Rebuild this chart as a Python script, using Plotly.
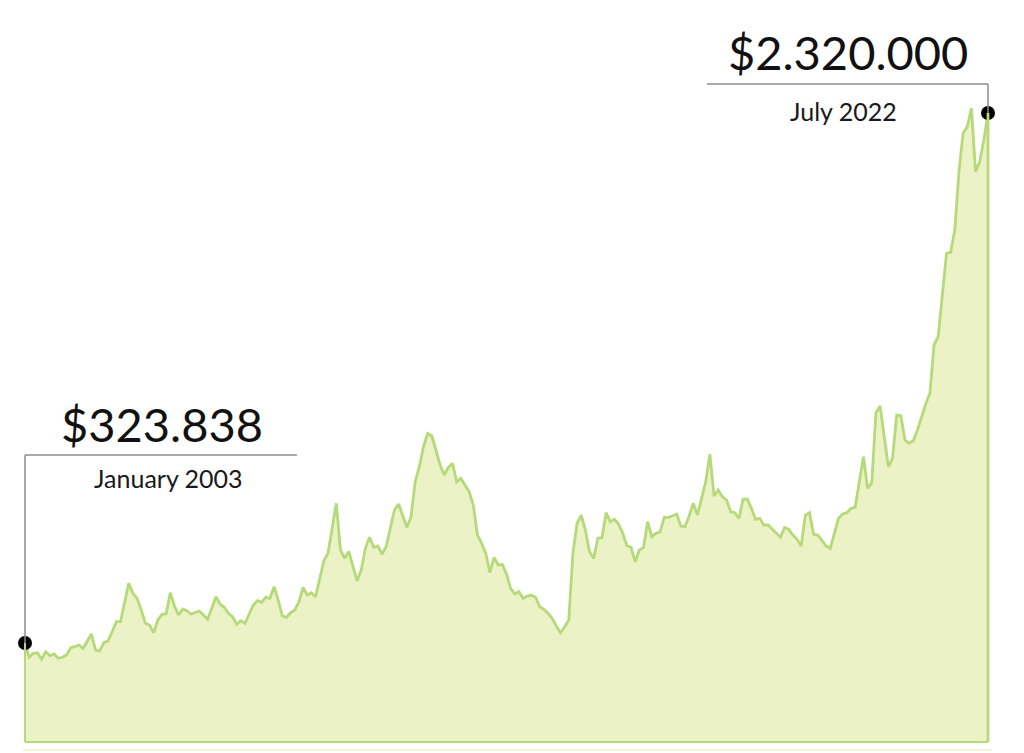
import pandas as pd
import plotly.graph_objects as go

# ---- data ----
values = [
    323838, 270000, 285000, 287300, 262400, 291100, 276000, 282400, 266200, 270000,
    278600, 306100, 309900, 316300, 303900, 328700, 357700, 297500, 293700, 325000,
    331400, 366400, 404100, 404100, 479400, 548700, 511000, 492200, 448100, 398000,
    391600, 362600, 410500, 431900, 434200, 513300, 463200, 429300, 451900, 445500,
    433100, 438000, 444400, 429300, 413100, 454500, 498200, 470700, 458300, 435700,
    422900, 394300, 407800, 398000, 435700, 466900, 483100, 477100, 496000, 492200,
    535900, 485800, 425500, 420600, 438000, 448100, 479400, 533600, 504600, 513300,
    498200, 561100, 633800, 661700, 761900, 850000, 674100, 642800, 668400, 611200,
    558500, 598800, 680500, 721900, 684300, 689200, 659000, 686500, 761900, 824700,
    847300, 805900, 759600, 799500, 931300, 987800, 1063100, 1113600, 1103500, 1050700,
    994200, 956600, 985600, 1000600, 931300, 944100, 918900, 893700, 843600, 730600,
    699300, 661700, 588600, 646600, 617600, 619500, 583700, 529800, 508400, 517000,
    492200, 500800, 503500, 496000, 460500, 450800, 435700, 416900, 387900, 362600,
    385200, 410500, 661700, 774600, 805900, 749400, 667700, 642800, 718200, 720400,
    814600, 780700, 789700, 772000, 737000, 690300, 684300, 630000, 674100, 682800,
    780700, 724200, 737000, 741900, 797200, 797200, 803300, 809700, 764500, 761900,
    802100, 850000, 805900, 868800, 931300, 1035600, 877500, 900100, 874800, 862400,
    818300, 814600, 793500, 865000, 866200, 831100, 789700, 793500, 768200, 768200,
    752000, 737000, 721900, 759600, 752000, 730600, 714400, 689200, 805900, 814600,
    733200, 730600, 711800, 689200, 680500, 738100, 793500, 809700, 814600, 831100,
    834900, 931300, 1025500, 906500, 927600, 1191200, 1216400, 1100800, 987800, 1019500,
    1182500, 1179900, 1088400, 1075900, 1085700, 1126000, 1176100, 1224000, 1264300, 1446200,
    1477400, 1640900, 1791500, 1795300, 1879300, 2098900, 2243500, 2268300, 2337600, 2098900,
    2136500, 2218200, 2320000,
]
start_date, end_date = "2003-01-01", "2022-07-01"
start_value_label, start_date_label = "$323.838", "January 2003"
end_value_label, end_date_label = "$2.320.000", "July 2022"

dates = pd.date_range(start_date, end_date, periods=len(values))

# ---- layout geometry (window pixel coordinates) ----
WIN_W, WIN_H = 1024, 753
OFF = 8                      # page body margin of the html page
PL, PR, PT, PB = 22, 991, 20, 746   # plot box in window pixels
W, H = WIN_W - OFF, WIN_H - OFF
GREEN = "#b6d97a"
FILL = "#ebf2c5"
GREY = "#8c8c8c"

plot_w = PR - PL
plot_h = PB - PT
# pixel scale: start value at y=643, end value at y=113
val_per_px = (values[-1] - values[0]) / (643 - 113)
y_bottom = values[0] - (PB - 643) * val_per_px
y_top = values[0] + (643 - PT) * val_per_px
BASE = values[0] - (742 - 643) * val_per_px

span = dates[-1] - dates[0]
per_px = span / (988 - 25)
x_range = [dates[0] - (25 - PL) * per_px, dates[-1] + (PR - 988) * per_px]


def px_x(px):
    return (px - PL) / plot_w


def px_y(py):
    return (PB - py) / plot_h


fig = go.Figure()
fig.add_trace(go.Scatter(x=dates, y=[BASE] * len(dates), mode="lines",
                         line=dict(color=GREEN, width=2), hoverinfo="skip",
                         showlegend=False))
fig.add_trace(go.Scatter(x=dates, y=values, mode="lines", fill="tonexty",
                         fillcolor=FILL, line=dict(color=GREEN, width=2.8),
                         showlegend=False))
fig.add_trace(go.Scatter(x=[dates[0], dates[-1]], y=[values[0], values[-1]],
                         mode="markers", marker=dict(color="black", size=14),
                         cliponaxis=False, showlegend=False))

shapes = [
    # edges of the area
    dict(type="line", xref="x", yref="y", x0=dates[0], x1=dates[0], y0=BASE, y1=values[0],
         line=dict(color=GREEN, width=2), layer="above"),
    dict(type="line", xref="x", yref="y", x0=dates[-1], x1=dates[-1], y0=BASE, y1=values[-1],
         line=dict(color=GREEN, width=2.8), layer="above"),
    # faint bottom line
    dict(type="line", xref="paper", yref="paper", x0=px_x(23), x1=px_x(992),
         y0=px_y(750), y1=px_y(750), line=dict(color="#eef5d8", width=2)),
    # leader lines
    dict(type="line", xref="paper", yref="paper", x0=px_x(25), x1=px_x(25),
         y0=px_y(643), y1=px_y(455), line=dict(color=GREY, width=1.5)),
    dict(type="line", xref="paper", yref="paper", x0=px_x(25), x1=px_x(297),
         y0=px_y(455), y1=px_y(455), line=dict(color=GREY, width=1.5)),
    dict(type="line", xref="paper", yref="paper", x0=px_x(707), x1=px_x(988),
         y0=px_y(84), y1=px_y(84), line=dict(color=GREY, width=1.5)),
    dict(type="line", xref="paper", yref="paper", x0=px_x(988), x1=px_x(988),
         y0=px_y(84), y1=px_y(113), line=dict(color=GREY, width=1.5)),
]

FONT = "Lato, Open Sans, sans-serif"
annotations = [
    dict(text=start_value_label, x=px_x(162), y=px_y(424), font=dict(size=47, color="#111")),
    dict(text=start_date_label, x=px_x(168), y=px_y(478), font=dict(size=25, color="#1a1a1a")),
    dict(text=end_value_label, x=px_x(848), y=px_y(52), font=dict(size=47, color="#111")),
    dict(text=end_date_label, x=px_x(843), y=px_y(111), font=dict(size=25, color="#1a1a1a")),
]
for a in annotations:
    a.update(xref="paper", yref="paper", showarrow=False, xanchor="center",
             yanchor="middle", font_family=FONT)

fig.update_layout(
    width=W, height=H,
    margin=dict(l=PL - OFF, r=WIN_W - PR, t=PT - OFF, b=WIN_H - PB, pad=0),
    paper_bgcolor="white", plot_bgcolor="white",
    xaxis=dict(visible=False, range=x_range, showgrid=False, zeroline=False),
    yaxis=dict(visible=False, range=[y_bottom, y_top], showgrid=False, zeroline=False),
    shapes=shapes, annotations=annotations,
    showlegend=False,
)

fig.write_html("out.html")
